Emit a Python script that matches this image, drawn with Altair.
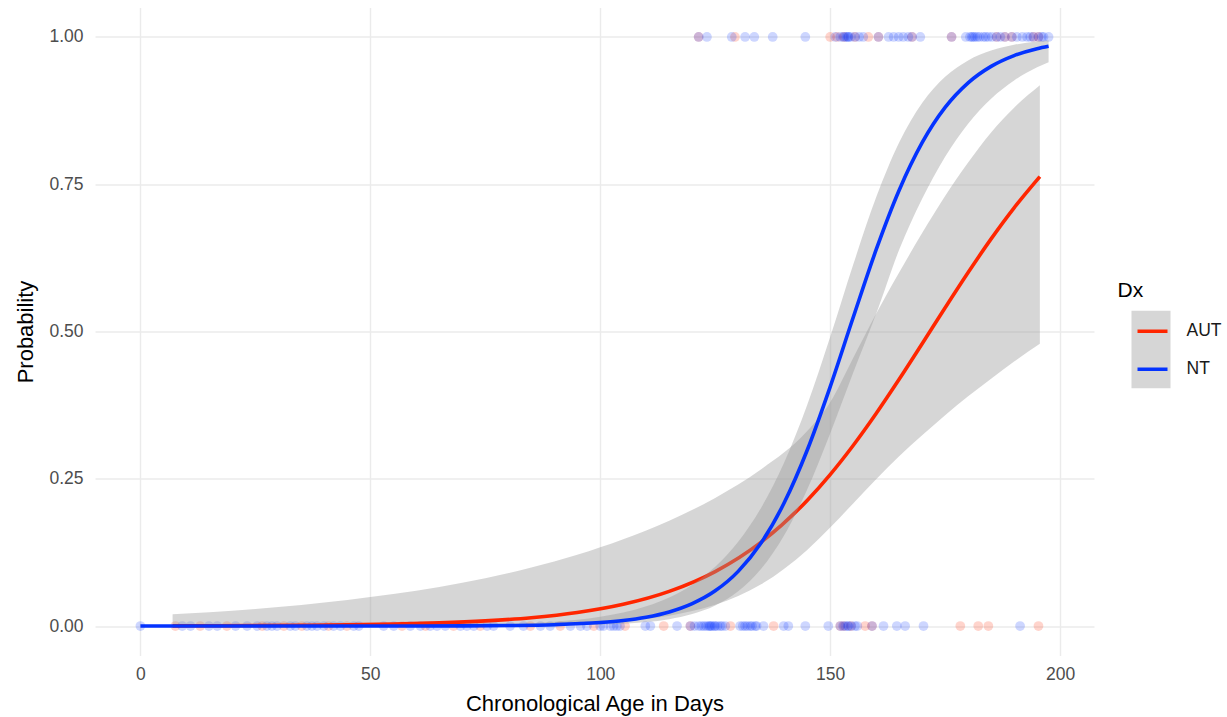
import altair as alt
import pandas as pd

# ---------------- data ----------------
# fitted curves (probability) and their confidence band, per group
nt_x = [0, 20, 40, 50, 60, 70, 80, 90, 100, 105, 110, 115, 120, 125, 130, 135, 140,
        145, 150, 155, 160, 165, 170, 175, 180, 185, 190, 195, 197.5]
nt_fit = [0.0000, 0.0000, 0.0000, 0.0001, 0.0001, 0.0003, 0.0009, 0.0023, 0.0059, 0.0094,
          0.0151, 0.0240, 0.0381, 0.0598, 0.0928, 0.1412, 0.2092, 0.2984, 0.4061, 0.5237,
          0.6388, 0.7398, 0.8205, 0.8803, 0.9220, 0.9500, 0.9683, 0.9801, 0.9842]
nt_lo = [0.0000, 0.0000, 0.0000, 0.0000, 0.0000, 0.0000, 0.0002, 0.0007, 0.0022, 0.0038,
         0.0067, 0.0117, 0.0203, 0.0349, 0.0590, 0.0971, 0.1540, 0.2316, 0.3270, 0.4300,
         0.5300, 0.6386, 0.7254, 0.7968, 0.8528, 0.8952, 0.9262, 0.9485, 0.9571]
nt_hi = [0.0000, 0.0000, 0.0002, 0.0004, 0.0008, 0.0016, 0.0035, 0.0075, 0.0158, 0.0231,
         0.0336, 0.0486, 0.0701, 0.1006, 0.1431, 0.2010, 0.2777, 0.3751, 0.4905, 0.6133,
         0.7277, 0.8207, 0.8878, 0.9324, 0.9602, 0.9769, 0.9867, 0.9924, 0.9943]

aut_x = [7, 15, 25, 35, 45, 55, 65, 75, 85, 95, 105, 115, 125, 135, 145, 150, 155, 160,
         165, 170, 175, 180, 185, 190, 195.6]
aut_fit = [0.0003, 0.0005, 0.0008, 0.0013, 0.0020, 0.0033, 0.0054, 0.0088, 0.0142, 0.0230,
           0.0369, 0.0588, 0.0925, 0.1425, 0.2132, 0.2571, 0.3065, 0.3608, 0.4188, 0.4792,
           0.5403, 0.6001, 0.6572, 0.7099, 0.7629]
aut_lo = [0.0000, 0.0000, 0.0000, 0.0000, 0.0001, 0.0002, 0.0004, 0.0009, 0.0019, 0.0040,
          0.0084, 0.0176, 0.0360, 0.0708, 0.1292, 0.1671, 0.2082, 0.2493, 0.2884, 0.3240,
          0.3580, 0.3900, 0.4200, 0.4490, 0.4790]
aut_hi = [0.0200, 0.0236, 0.0291, 0.0359, 0.0441, 0.0542, 0.0664, 0.0813, 0.0993, 0.1210,
          0.1473, 0.1789, 0.2175, 0.2660, 0.3309, 0.3800, 0.4550, 0.5300, 0.6000, 0.6670,
          0.7300, 0.7870, 0.8380, 0.8800, 0.9180]

# observed outcomes (0 / 1) by age in days
aut_top = [121.4, 129.3, 150.0, 151.5, 153.0, 155.4, 158.3, 160.5, 167.8, 176.4, 186.2,
           188.0, 189.5, 194.2, 195.3]
nt_top = [121.4, 123.2, 128.6, 131.5, 133.5, 137.5, 144.6, 151.1, 152.2, 152.8, 153.2,
          153.6, 153.9, 154.0, 154.5, 155.4, 156.3, 157.2, 160.5, 162.7, 163.8, 164.9,
          165.9, 167.0, 167.8, 169.6, 176.4, 179.5, 180.4, 180.8, 181.1, 181.5, 182.0,
          182.5, 183.3, 183.8, 184.4, 185.2, 186.2, 187.0, 188.0, 189.5, 190.6, 191.8,
          192.8, 193.5, 194.2, 195.3, 196.0, 196.4, 197.5]
aut_bottom = [7.6, 13.0, 18.8, 26.5, 31.2, 35.1, 40.9, 44.9, 56.9, 62.0, 68.1, 73.9, 84.8,
              91.3, 98.6, 105.4, 113.8, 119.6, 128.3, 137.7, 152.2, 153.0, 154.5, 157.6,
              159.1, 178.3, 182.2, 184.4, 195.3]
nt_bottom = [0.0, 9.1, 10.9, 14.9, 16.7, 20.7, 23.2, 25.4, 27.5, 28.6, 29.7, 32.6, 33.7,
             36.2, 37.3, 38.4, 39.9, 42.0, 43.5, 46.4, 47.5, 52.9, 55.1, 58.7, 60.9, 63.0,
             64.5, 66.3, 69.6, 71.0, 72.5, 75.4, 76.8, 80.4, 83.3, 87.0, 89.1, 93.5, 95.7,
             97.1, 100.0, 100.7, 102.2, 102.9, 103.6, 104.3, 109.8, 110.9, 116.7, 119.6,
             120.5, 121.4, 122.0, 122.5, 123.0, 123.5, 123.8, 124.0, 124.3, 124.8, 125.0,
             125.5, 126.1, 126.5, 127.2, 130.4, 131.0, 131.5, 132.0, 132.6, 133.0, 133.7,
             134.0, 135.5, 139.9, 140.9, 144.6, 149.6, 152.2, 152.8, 153.3, 153.8, 154.0,
             154.6, 155.4, 155.9, 159.1, 161.6, 164.5, 166.3, 170.3, 191.3]

groups = ["AUT", "NT"]
group_colors = ["#FF2600", "#0433FF"]
x_ticks = [0, 50, 100, 150, 200]
y_ticks = [0, 0.25, 0.5, 0.75, 1.0]

# ---------------- tables ----------------
curves = pd.concat([
    pd.DataFrame({"x": aut_x, "fit": aut_fit, "lo": aut_lo, "hi": aut_hi, "Dx": "AUT"}),
    pd.DataFrame({"x": nt_x, "fit": nt_fit, "lo": nt_lo, "hi": nt_hi, "Dx": "NT"}),
], ignore_index=True)

points = pd.concat([
    pd.DataFrame({"x": aut_bottom, "y": 0.0, "Dx": "AUT"}),
    pd.DataFrame({"x": aut_top, "y": 1.0, "Dx": "AUT"}),
    pd.DataFrame({"x": nt_bottom, "y": 0.0, "Dx": "NT"}),
    pd.DataFrame({"x": nt_top, "y": 1.0, "Dx": "NT"}),
], ignore_index=True)

FONT = "Liberation Sans"

x_scale = alt.Scale(domain=[-9.875, 207.375], nice=False, zero=False)
y_scale = alt.Scale(domain=[-0.05, 1.05], nice=False, zero=False)
color_scale = alt.Scale(domain=groups, range=group_colors)

x_axis = alt.Axis(values=x_ticks, format="d", title="Chronological Age in Days",
                  titleY=54.5, titleBaseline="alphabetic", labelPadding=10)
y_axis = alt.Axis(values=y_ticks, format=".2f", title="Probability",
                  titleX=-63, titleBaseline="alphabetic", labelPadding=12)

legend = alt.Legend(
    title="Dx", orient="none", legendX=1022.5, legendY=272.7,
    symbolType="stroke", symbolSize=900, symbolStrokeWidth=3.6, symbolOpacity=1,
    symbolOffset=18, labelOffset=17, clipHeight=30, rowPadding=8,
    titlePadding=15, padding=0,
    titleFont=FONT, titleFontSize=21, titleFontWeight="normal", titleColor="#000000",
    labelFont=FONT, labelFontSize=17.5, labelColor="#1A1A1A",
)


def X(field="x"):
    return alt.X(f"{field}:Q", scale=x_scale, axis=x_axis)


def Y(field):
    return alt.Y(f"{field}:Q", scale=y_scale, axis=y_axis)


def C():
    return alt.Color("Dx:N", scale=color_scale, legend=legend)


pts_layer = alt.Chart(points).mark_circle(size=95, opacity=0.2).encode(
    x=X(), y=Y("y"), color=C(),
)


def ribbon(g):
    return alt.Chart(curves).transform_filter(alt.datum.Dx == g).mark_area(
        fill="#999999", opacity=0.4, interpolate="monotone"
    ).encode(x=X(), y=Y("lo"), y2="hi:Q")


def line(g):
    return alt.Chart(curves).transform_filter(alt.datum.Dx == g).mark_line(
        strokeWidth=3.6, interpolate="monotone"
    ).encode(x=X(), y=Y("fit"), color=C())


key_bg = alt.Chart(pd.DataFrame({"k": [0]})).mark_rect(fill="#D6D6D6").encode(
    x=alt.value(1036.5), x2=alt.value(1075.5), y=alt.value(303.2), y2=alt.value(380.8)
)

chart = alt.layer(
    pts_layer, ribbon("AUT"), line("AUT"), ribbon("NT"), line("NT"), key_bg
).properties(
    width=999, height=648,
    padding={"left": 95, "top": 7.5, "right": 133, "bottom": 61.5},
    autosize=alt.AutoSizeParams(type="none"),
    background="white",
).configure_view(stroke=None).configure_axis(
    grid=True, gridColor="#EBEBEB", gridWidth=1.4, domain=False, ticks=False,
    labelFont=FONT, labelFontSize=17.5, labelColor="#4D4D4D",
    titleFont=FONT, titleFontSize=22, titleFontWeight="normal", titleColor="#000000",
)

chart.save("out.html", embed_options={"renderer": "svg", "actions": False})
